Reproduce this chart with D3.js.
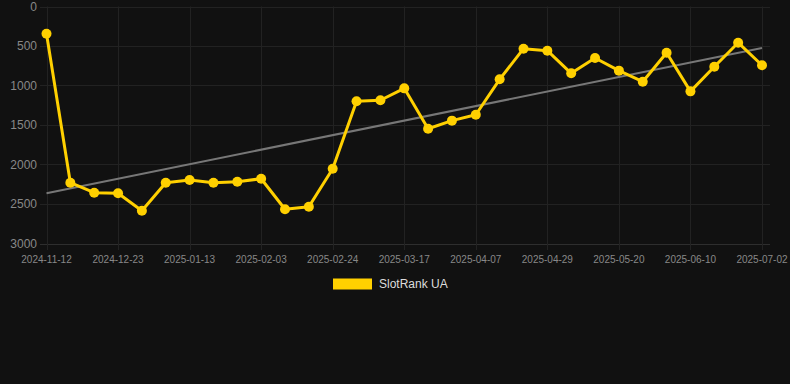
<!DOCTYPE html>
<html>
<head>
<meta charset="utf-8">
<script src="https://cdn.jsdelivr.net/npm/d3@7"></script>
<style>
  body { margin: 0; background: #111111; }
  svg { display: block; font-family: "Liberation Sans", Arial, sans-serif; }
</style>
</head>
<body>
<div id="chart"></div>
<script>
// categories (only every 3rd label is shown on the axis)
var dates = [
    '2024-11-12', '2024-11-26', '2024-12-09', '2024-12-23', '2024-12-30', '2025-01-06',
    '2025-01-13', '2025-01-20', '2025-01-27', '2025-02-03', '2025-02-10', '2025-02-17',
    '2025-02-24', '2025-03-03', '2025-03-10', '2025-03-17', '2025-03-24', '2025-03-31',
    '2025-04-07', '2025-04-14', '2025-04-22', '2025-04-29', '2025-05-06', '2025-05-13',
    '2025-05-20', '2025-05-27', '2025-06-03', '2025-06-10', '2025-06-17', '2025-06-24',
    '2025-07-02'
];
var ranks = [
    345, 2230, 2357, 2365, 2585, 2230, 2196, 2230, 2218, 2180,
    2567, 2534, 2053, 1200, 1187, 1036, 1547, 1445, 1370, 922,
    534, 559, 846, 652, 812, 952, 585, 1074, 762, 458, 744
];
var y_ticks = [0, 500, 1000, 1500, 2000, 2500, 3000];
var series_name = 'SlotRank UA';

var chart_width = 790;
var chart_height = 384;
var line_color = '#ffd000';

var svg = d3.select('#chart')
    .append('svg')
    .attr('width', chart_width)
    .attr('height', chart_height);

svg.append('rect')
    .attr('width', chart_width)
    .attr('height', chart_height)
    .attr('fill', '#111111');

var x_scale = d3.scalePoint()
    .domain(dates)
    .range([46.5, 762]);

var y_scale = d3.scaleLinear()
    .domain([0, 3000])
    .range([6.5, 243.5]);

var shown_dates = dates.filter(function (d, i) { return i % 3 === 0; });

// grid
svg.append('g')
    .selectAll('line')
    .data(y_ticks)
    .enter()
    .append('line')
    .attr('x1', 40)
    .attr('x2', 770)
    .attr('y1', function (d) { return Math.round(y_scale(d)) + 0.5; })
    .attr('y2', function (d) { return Math.round(y_scale(d)) + 0.5; })
    .attr('stroke', function (d) { return d === 3000 ? '#2e2e2e' : '#222222'; })
    .attr('stroke-width', 1);

svg.append('g')
    .selectAll('line')
    .data(shown_dates)
    .enter()
    .append('line')
    .attr('x1', function (d) { return Math.round(x_scale(d)) + 0.5; })
    .attr('x2', function (d) { return Math.round(x_scale(d)) + 0.5; })
    .attr('y1', 6.5)
    .attr('y2', 250)
    .attr('stroke', '#222222')
    .attr('stroke-width', 1);

// y labels
svg.append('g')
    .selectAll('text')
    .data(y_ticks)
    .enter()
    .append('text')
    .text(function (d) { return d; })
    .attr('x', 37)
    .attr('y', function (d) { return y_scale(d); })
    .attr('dy', '0.35em')
    .attr('text-anchor', 'end')
    .attr('font-size', 12)
    .attr('fill', '#888888');

// x labels
svg.append('g')
    .selectAll('text')
    .data(shown_dates)
    .enter()
    .append('text')
    .text(function (d) { return d; })
    .attr('x', function (d) { return x_scale(d); })
    .attr('y', 259)
    .attr('dy', '0.35em')
    .attr('text-anchor', 'middle')
    .attr('font-size', 10)
    .attr('fill', '#888888');

// trend line (least squares over the series)
var n = ranks.length;
var mean_x = d3.mean(d3.range(n));
var mean_y = d3.mean(ranks);
var slope = d3.sum(ranks, function (d, i) { return (i - mean_x) * (d - mean_y); }) /
    d3.sum(d3.range(n), function (i) { return (i - mean_x) * (i - mean_x); });
var intercept = mean_y - slope * mean_x;

svg.append('line')
    .attr('x1', x_scale(dates[0]))
    .attr('y1', y_scale(intercept))
    .attr('x2', x_scale(dates[n - 1]))
    .attr('y2', y_scale(intercept + slope * (n - 1)))
    .attr('stroke', '#777777')
    .attr('stroke-width', 2);

// series line
var line = d3.line()
    .x(function (d, i) { return x_scale(dates[i]); })
    .y(function (d) { return y_scale(d); });

svg.append('path')
    .datum(ranks)
    .attr('d', line)
    .attr('fill', 'none')
    .attr('stroke', line_color)
    .attr('stroke-width', 3)
    .attr('stroke-linejoin', 'round');

svg.append('g')
    .selectAll('circle')
    .data(ranks)
    .enter()
    .append('circle')
    .attr('cx', function (d, i) { return x_scale(dates[i]); })
    .attr('cy', function (d) { return y_scale(d); })
    .attr('r', 5)
    .attr('fill', line_color);

// legend
svg.append('rect')
    .attr('x', 333)
    .attr('y', 278.5)
    .attr('width', 39)
    .attr('height', 11)
    .attr('fill', line_color);

svg.append('text')
    .text(series_name)
    .attr('x', 379)
    .attr('y', 284)
    .attr('dy', '0.35em')
    .attr('font-size', 12)
    .attr('fill', '#dddddd');
</script>
</body>
</html>
